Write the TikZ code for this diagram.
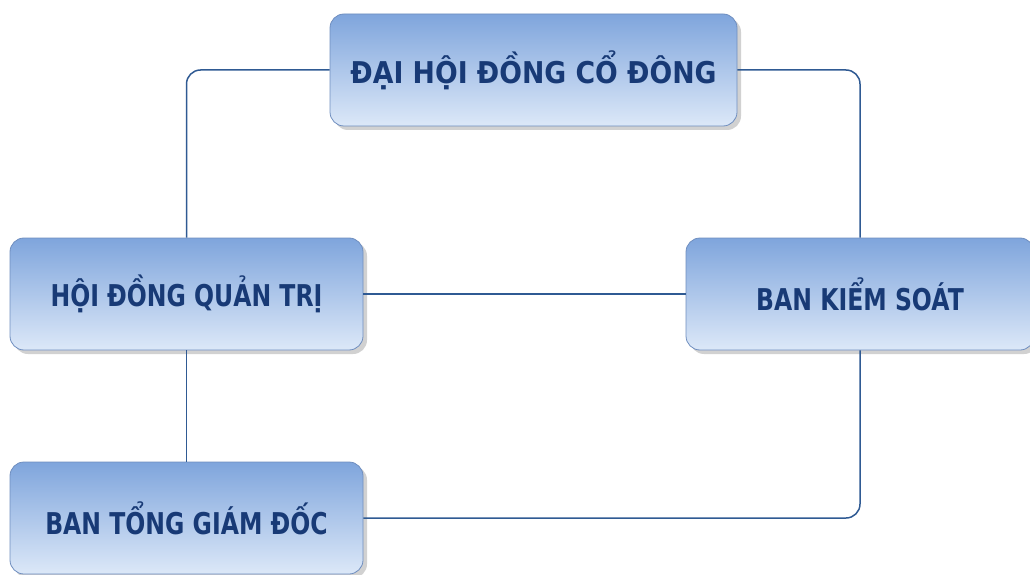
\documentclass[tikz,border=0pt]{standalone}
\usepackage{fontspec}
\setmainfont{DejaVu Sans}
\newfontfamily\boxfont[FakeStretch=0.89]{DejaVu Sans}
\newfontfamily\boxfontn[FakeStretch=0.785]{DejaVu Sans}
\usetikzlibrary{shadows}
\definecolor{boxtop}{HTML}{7FA5DC}
\definecolor{boxbot}{HTML}{DCE8F8}
\definecolor{boxedge}{HTML}{6F8EBF}
\definecolor{txt}{HTML}{183A76}
\definecolor{wire}{HTML}{2F5A93}
\begin{document}
\begin{tikzpicture}[x=1pt,y=1pt,
  orgbox/.style={rounded corners=14pt, draw=boxedge, line width=0.8pt,
    top color=boxtop, bottom color=boxbot, minimum height=112pt,
    font=\boxfont\bfseries\fontsize{30}{34}\selectfont, text=txt,
    drop shadow={shadow xshift=4pt, shadow yshift=-4pt, fill=black!30, opacity=0.6}},
  narrowtext/.style={font=\boxfontn\bfseries\fontsize{30}{34}\selectfont},
  wire/.style={draw=wire, line width=1.5pt, rounded corners=14pt}]
\useasboundingbox (0,0) rectangle (1030,574);
\node[orgbox, minimum width=407pt] (dh) at (533.5,504) {ĐẠI HỘI ĐỒNG CỔ ĐÔNG};
\node[orgbox, narrowtext, minimum width=353pt] (hd) at (186.5,280) {HỘI ĐỒNG QUẢN TRỊ};
\node[orgbox, narrowtext, minimum width=348pt] (bk) at (860,280) {BAN KIỂM SOÁT};
\node[orgbox, narrowtext, minimum width=353pt] (bt) at (186.5,56) {BAN TỔNG GIÁM ĐỐC};
\draw[wire] (dh.west) -| (hd.north);
\draw[wire] (dh.east) -| (bk.north);
\draw[wire] (hd.east) -- (bk.west);
\draw[wire] (hd.south) -- (bt.north);
\draw[wire] (bk.south) |- (bt.east);
\end{tikzpicture}
\end{document}
